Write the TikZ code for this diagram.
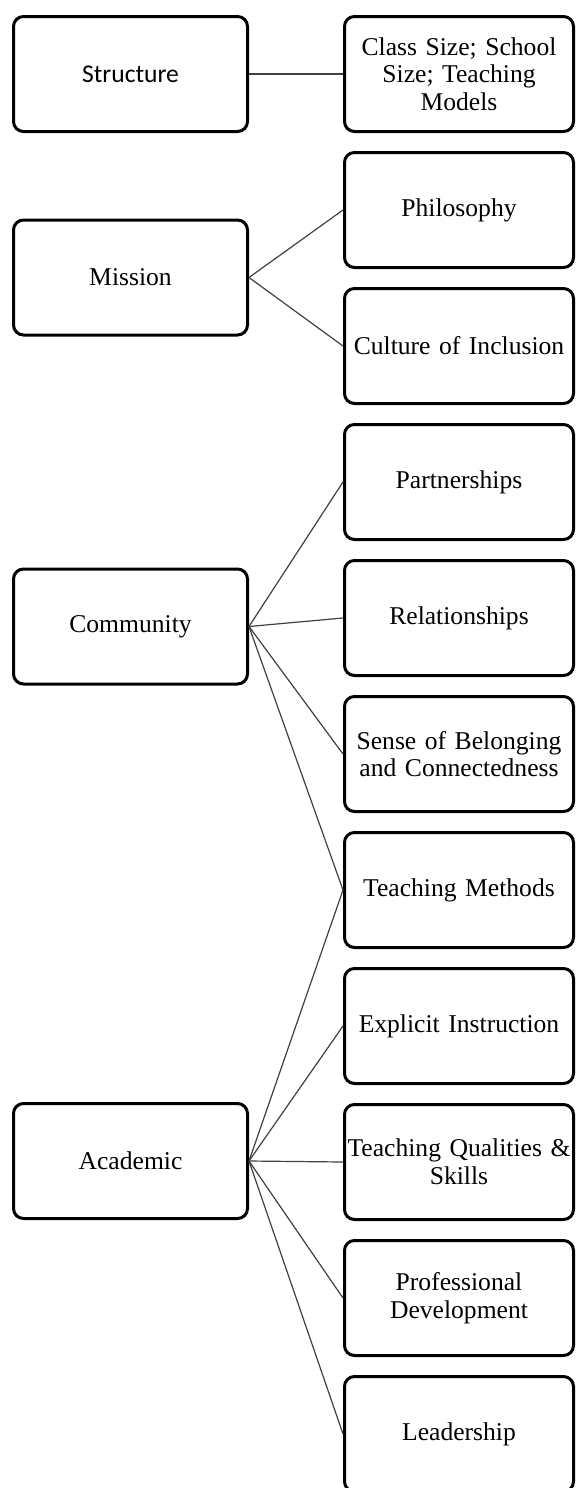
\documentclass[tikz,border=0pt]{standalone}
\usepackage{fontspec}
\setmainfont{Liberation Serif}
\newfontfamily\calibrifont{Carlito}
\usepackage{tikz}
\usetikzlibrary{calc}
\def\drawlink{\draw[color=black!75, line width=0.6pt]}
\def\catnode{\node[draw=black,line width=1.5pt,rounded corners=5pt,minimum width=117pt,minimum height=57.5pt,align=center,font=\fontsize{12.8}{13.8}\selectfont]}
\def\subnode{\node[draw=black,line width=1.5pt,rounded corners=5pt,minimum width=114.5pt,minimum height=57.5pt,inner xsep=0pt,text width=113pt,align=center,font=\fontsize{12.8}{13.8}\selectfont]}

\begin{document}
\begin{tikzpicture}[x=0.5pt,y=-0.5pt,inner sep=1mm]
\useasboundingbox (0,0) rectangle (575,1488);

% ---------- left column: the four categories
\catnode (struct) at (130.5,74) {\calibrifont Structure};
\catnode (mission) at (130.5,277.5) {Mission};
\catnode (commun) at (130.5,626.5) {Community};
\catnode (academ) at (130.5,1161) {Academic};

% ---------- right column, one box every 136px
\subnode (csize) at (459,74) {Class Size; School\\Size; Teaching\\Models};
\subnode (philo) at ($ (csize) + (0,136) $) {Philosophy};
\subnode (incl) at ($ (philo) + (0,136) $) {Culture of Inclusion};
\subnode (partn) at ($ (incl) + (0,136) $) {Partnerships};
\subnode (relat) at ($ (partn) + (0,136) $) {Relationships};
\subnode (belong) at ($ (relat) + (0,136) $) {Sense of Belonging\\and Connectedness};
\subnode (tmeth) at ($ (belong) + (0,136) $) {Teaching Methods};
\subnode (explic) at ($ (tmeth) + (0,136) $) {Explicit Instruction};
\subnode (tqual) at ($ (explic) + (0,136) $) {Teaching Qualities \&\\Skills};
\subnode (profdev) at ($ (tqual) + (0,136) $) {Professional\\Development};
\subnode (lead) at ($ (profdev) + (0,136) $) {Leadership};

% ---------- links
\drawlink (struct.east) -- (csize.west);
\drawlink (mission.east) -- (philo.west);
\drawlink (mission.east) -- (incl.west);
\drawlink (commun.east) -- (partn.west);
\drawlink (commun.east) -- (relat.west);
\drawlink (commun.east) -- (belong.west);
\drawlink (commun.east) -- (tmeth.west);
% Teaching Methods is shared with Academic
\drawlink (academ.east) -- (tmeth.west);
\drawlink (academ.east) -- (explic.west);
\drawlink (academ.east) -- (tqual.west);
\drawlink (academ.east) -- (profdev.west);
\drawlink (academ.east) -- (lead.west);
\end{tikzpicture}
\end{document}
